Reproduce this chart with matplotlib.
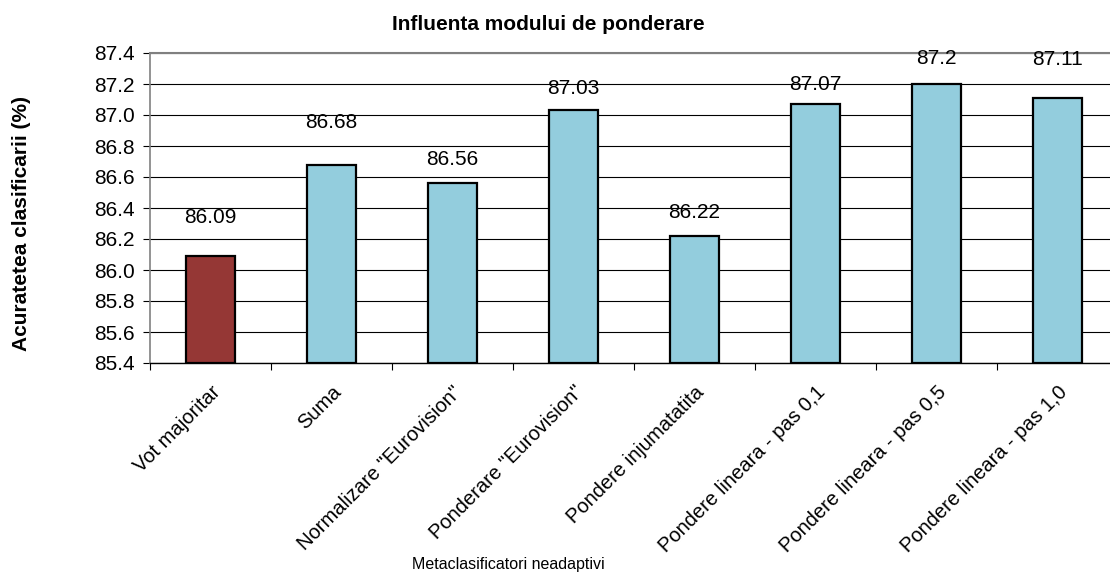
import matplotlib.pyplot as plt
import matplotlib.transforms as mtransforms
import numpy as np

plt.rcParams['font.family'] = ['Liberation Sans', 'DejaVu Sans']

categories = ['Vot majoritar', 'Suma', 'Normalizare "Eurovision"',
              'Ponderare "Eurovision"', 'Pondere injumatatita',
              'Pondere lineara - pas 0,1', 'Pondere lineara - pas 0,5',
              'Pondere lineara - pas 1,0']
values = [86.09, 86.68, 86.56, 87.03, 86.22, 87.07, 87.2, 87.11]
value_labels = ['86.09', '86.68', '86.56', '87.03', '86.22', '87.07', '87.2', '87.11']
y_ticks = [85.4, 85.6, 85.8, 86.0, 86.2, 86.4, 86.6, 86.8, 87.0, 87.2, 87.4]

# label offsets above bars (points), as placed in the original
label_offsets = [28, 30, 17, 16, 17, 14, 18, 28]
colors = ['#953735'] + ['#93CDDD'] * 7

fig = plt.figure(figsize=(11.1, 5.77), dpi=100)
ax = fig.add_axes([150 / 1110, 214 / 577, 968 / 1110, 310 / 577])

x = np.arange(len(categories))
ax.bar(x, [v - 85.4 for v in values], bottom=85.4, width=0.4, color=colors,
       edgecolor='black', linewidth=1.6, zorder=3)

for xi, v, lab, off in zip(x, values, value_labels, label_offsets):
    ax.annotate(lab, (xi, v), xytext=(0, off), textcoords='offset points',
                ha='center', va='center', fontsize=15, zorder=4)

ax.set_xlim(-0.5, len(categories) - 0.5)
ax.set_ylim(85.4, 87.4)
ax.set_yticks(y_ticks)
ax.set_yticklabels(['%.1f' % t for t in y_ticks], fontsize=15)
ax.yaxis.grid(True, color='black', linewidth=0.8, zorder=0)
ax.set_axisbelow(True)

ax.set_xticks(np.arange(len(categories) + 1) - 0.5, minor=False)
ax.set_xticklabels([])
ax.set_xticks(x, minor=True)
ax.set_xticklabels(categories, minor=True, rotation=45, ha='right',
                   rotation_mode='anchor', fontsize=14.5)
shift = mtransforms.ScaledTranslation(-6 / 100, 0, fig.dpi_scale_trans)
for lbl in ax.get_xticklabels(minor=True):
    lbl.set_transform(lbl.get_transform() + shift)
ax.tick_params(axis='x', which='minor', length=0, pad=14)
ax.tick_params(axis='x', which='major', length=5, width=0.8, direction='out')
ax.tick_params(axis='y', length=5, width=0.8, direction='out', pad=6)

ax.spines['right'].set_visible(False)
ax.spines['top'].set_color('#808080')
ax.spines['top'].set_linewidth(1.5)
ax.spines['left'].set_color('#808080')
ax.spines['left'].set_linewidth(1.2)
ax.spines['bottom'].set_linewidth(1.0)

fig.text(548 / 1110, 1 - 25 / 577, 'Influenta modului de ponderare',
         ha='center', va='center', fontsize=15, fontweight='bold')
fig.text(22 / 1110, 1 - 223 / 577, 'Acuratetea clasificarii (%)',
         ha='center', va='center', rotation=90, fontsize=15, fontweight='bold')
fig.text(508 / 1110, 1 - 565 / 577, 'Metaclasificatori neadaptivi',
         ha='center', va='center', fontsize=11.5)

fig.savefig('out.png', dpi=100)
